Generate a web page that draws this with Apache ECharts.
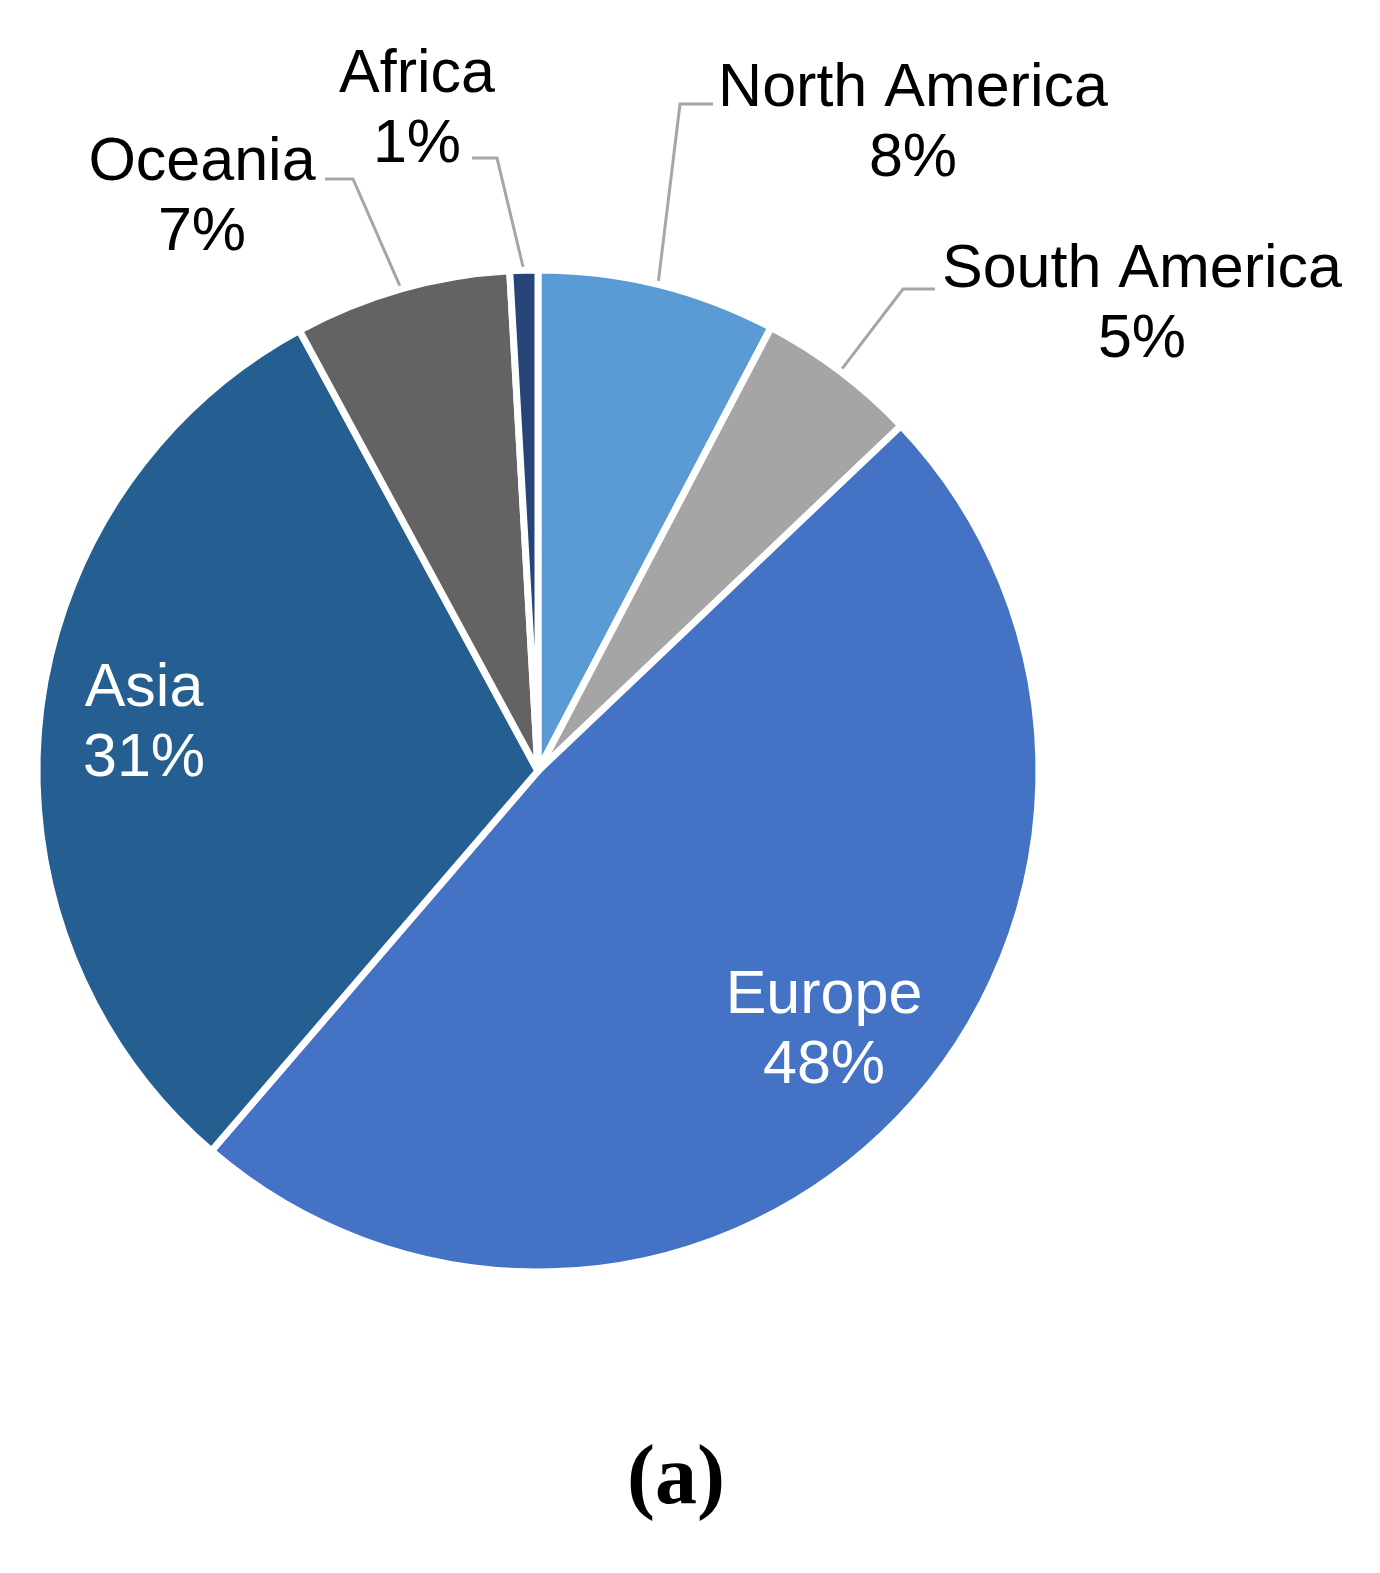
<!DOCTYPE html>
<html>
<head>
<meta charset="utf-8">
<script src="https://cdn.jsdelivr.net/npm/echarts@6/dist/echarts.min.js"></script>
<style>
html,body{margin:0;padding:0;background:#fff;}
#chart{width:1380px;height:1573px;}
</style>
</head>
<body>
<div id="chart"></div>
<script>
// ---- data ----
const categories = ['North America', 'South America', 'Europe', 'Asia', 'Oceania', 'Africa'];
const shares = [7.7, 5.2, 48.4, 30.8, 7.0, 0.9];
const caption = '(a)';

// ---- styling / layout ----
const colors = ['#5B9BD5', '#A5A5A5', '#4472C4', '#255E91', '#636363', '#264478'];
const insideLabels = ['Europe', 'Asia'];
const labelSpots = {
  'North America': { x: 913, y: 124, end: [713, 104], elbow: [680, 104] },
  'South America': { x: 1142, y: 305, end: [935, 289], elbow: [903, 289] },
  'Oceania':       { x: 202, y: 198, end: [325, 179], elbow: [353, 179] },
  'Africa':        { x: 417, y: 110, end: [472, 158], elbow: [497, 158] },
  'Asia':          { x: 144, y: 724 },
  'Europe':        { x: 824, y: 1031 }
};

const total = shares.reduce((a, b) => a + b, 0);
const chart = echarts.init(document.getElementById('chart'), null, { renderer: 'canvas' });

const data = categories.map((name, i) => {
  const inside = insideLabels.includes(name);
  return {
    name,
    value: shares[i],
    itemStyle: { color: colors[i] },
    label: {
      position: inside ? 'inside' : 'outside',
      color: inside ? '#ffffff' : '#000000'
    },
    labelLine: { show: !inside }
  };
});

chart.setOption({
  animation: false,
  backgroundColor: '#ffffff',
  series: [{
    type: 'pie',
    center: [538, 771],
    radius: 501,
    startAngle: 90,
    clockwise: true,
    avoidLabelOverlap: false,
    data,
    itemStyle: { borderColor: '#ffffff', borderWidth: 7 },
    label: {
      show: true,
      fontFamily: '"Liberation Sans", Arial, sans-serif',
      fontSize: 61,
      lineHeight: 70,
      align: 'center',
      formatter: (p) => p.name + '\n' + Math.round(p.value / total * 100) + '%'
    },
    labelLine: {
      show: true,
      length: 30,
      length2: 30,
      lineStyle: { color: '#A6A6A6', width: 3 }
    },
    labelLayout: (params) => {
      const name = categories[params.dataIndex];
      const spot = labelSpots[name];
      const out = { x: spot.x, y: spot.y, align: 'center', verticalAlign: 'middle' };
      if (spot.end && params.labelLinePoints) {
        const p0 = params.labelLinePoints[0];
        out.labelLinePoints = [p0, spot.elbow, spot.end];
      }
      return out;
    }
  }],
  graphic: [{
    type: 'text',
    x: 676,
    y: 1481,
    style: {
      text: caption,
      font: 'bold 84px "Liberation Serif", "Times New Roman", serif',
      fill: '#000000',
      align: 'center',
      verticalAlign: 'middle'
    }
  }]
});
</script>
</body>
</html>
